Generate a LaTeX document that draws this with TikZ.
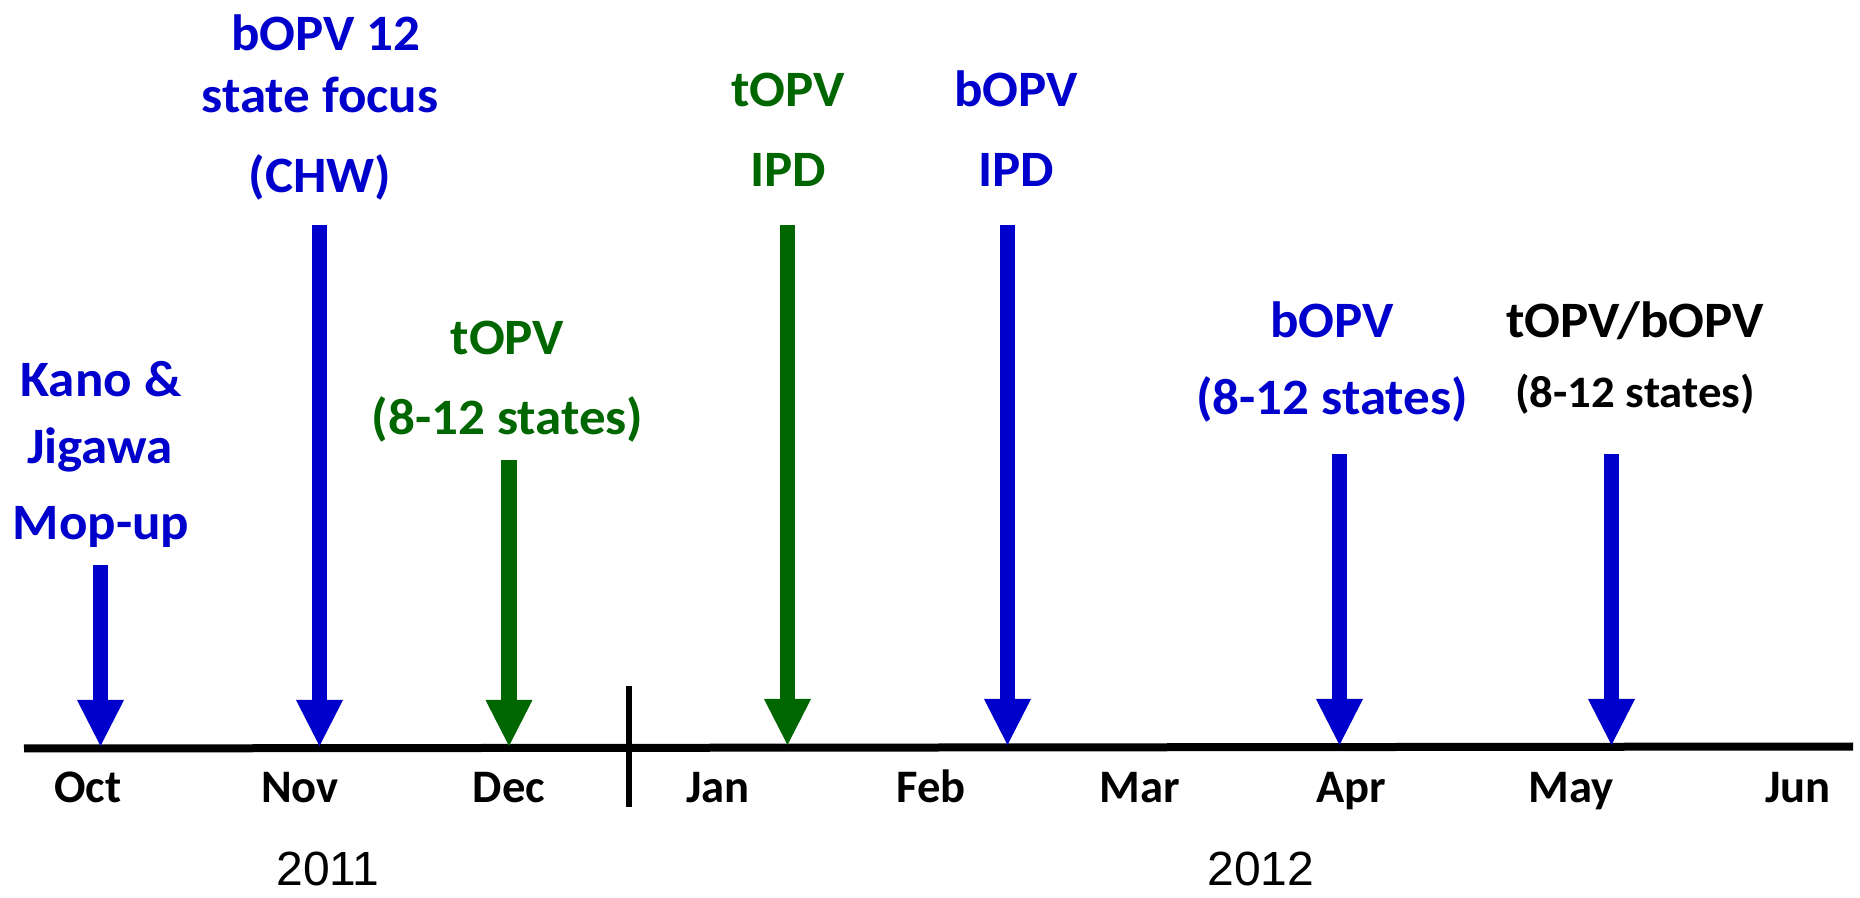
\documentclass[tikz,border=0pt]{standalone}
\usepackage{fontspec}
\setmainfont{Carlito}
\newfontfamily\lab{Carlito}[FakeStretch=1.04]
\newfontfamily\yearfont{Liberation Sans}
\usetikzlibrary{arrows.meta}
\definecolor{cblue}{RGB}{0,0,204}
\definecolor{cgreen}{RGB}{0,102,0}
\begin{document}
\begin{tikzpicture}[x=0.5pt,y=-0.5pt,
  lbl/.style={anchor=base,inner sep=0pt,font=\lab\bfseries\fontsize{25.5pt}{30pt}\selectfont},
  lblsmall/.style={anchor=base,inner sep=0pt,font=\lab\bfseries\fontsize{22.5pt}{27pt}\selectfont},
  month/.style={anchor=base,inner sep=0pt,font=\bfseries\fontsize{23.3pt}{28pt}\selectfont},
  year/.style={anchor=base,inner sep=0pt,font=\yearfont\fontsize{24pt}{28pt}\selectfont},
  evt/.style={line width=7.75pt,-{Triangle[width=23.5pt,length=23pt,line width=0pt]}},
]
\fill[white] (0,0) rectangle (1860,898);
\useasboundingbox (0,0) rectangle (1860,898);

% axis and divider
\coordinate (axL) at (24,748.5);
\coordinate (axR) at (1853,746.5);
\draw[line width=4pt] (axL) -- (axR);
\coordinate (dvT) at (629,686);
\coordinate (dvB) at (629,807);
\draw[line width=3pt] (dvT) -- (dvB);

% event arrows
\coordinate (octT) at (100.5,565);  \coordinate (octB) at (100.5,746);
\coordinate (novT) at (319.5,225);  \coordinate (novB) at (319.5,746);
\coordinate (decT) at (509,460);    \coordinate (decB) at (509,746);
\coordinate (janT) at (787.5,225);  \coordinate (janB) at (787.5,745);
\coordinate (febT) at (1007.5,225); \coordinate (febB) at (1007.5,745);
\coordinate (aprT) at (1339.5,454); \coordinate (aprB) at (1339.5,745);
\coordinate (mayT) at (1611.5,454); \coordinate (mayB) at (1611.5,745);
\draw[evt,cblue]  (octT) -- (octB);
\draw[evt,cblue]  (novT) -- (novB);
\draw[evt,cgreen] (decT) -- (decB);
\draw[evt,cgreen] (janT) -- (janB);
\draw[evt,cblue]  (febT) -- (febB);
\draw[evt,cblue]  (aprT) -- (aprB);
\draw[evt,cblue]  (mayT) -- (mayB);

% event labels
\node[lbl,cblue] (oct1) at (101,397) {Kano \&};
\node[lbl,cblue] (oct2) at (100,464) {Jigawa};
\node[lbl,cblue] (oct3) at (101,540) {Mop-up};

\node[lbl,cblue] (nov1) at (326,51) {bOPV 12};
\node[lbl,cblue] (nov2) at (320,113) {state focus};
\node[lbl,cblue] (nov3) at (320,193) {(CHW)};

\node[lbl,cgreen] (dec1) at (507.5,355) {tOPV};
\node[lbl,cgreen] (dec2) at (507.5,435) {(8-12 states)};

\node[lbl,cgreen] (jan1) at (788,107) {tOPV};
\node[lbl,cgreen] (jan2) at (788,187) {IPD};

\node[lbl,cblue] (feb1) at (1016,107) {bOPV};
\node[lbl,cblue] (feb2) at (1016,187) {IPD};

\node[lbl,cblue] (apr1) at (1332,338) {bOPV};
\node[lbl,cblue] (apr2) at (1332,415) {(8-12 states)};

\node[lbl] (may1) at (1635,338) {tOPV/bOPV};
\node[lblsmall] (may2) at (1635,408) {(8-12 states)};

% months
\node[month] (mOct) at (88,802) {Oct};
\node[month] (mNov) at (300,802) {Nov};
\node[month] (mDec) at (509,802) {Dec};
\node[month] (mJan) at (718,802) {Jan};
\node[month] (mFeb) at (931,802) {Feb};
\node[month] (mMar) at (1140,802) {Mar};
\node[month] (mApr) at (1351,802) {Apr};
\node[month] (mMay) at (1571,802) {May};
\node[month] (mJun) at (1798,802) {Jun};

% years
\node[year] (y2011) at (328,885) {2011};
\node[year] (y2012) at (1261,885) {2012};
\end{tikzpicture}
\end{document}
